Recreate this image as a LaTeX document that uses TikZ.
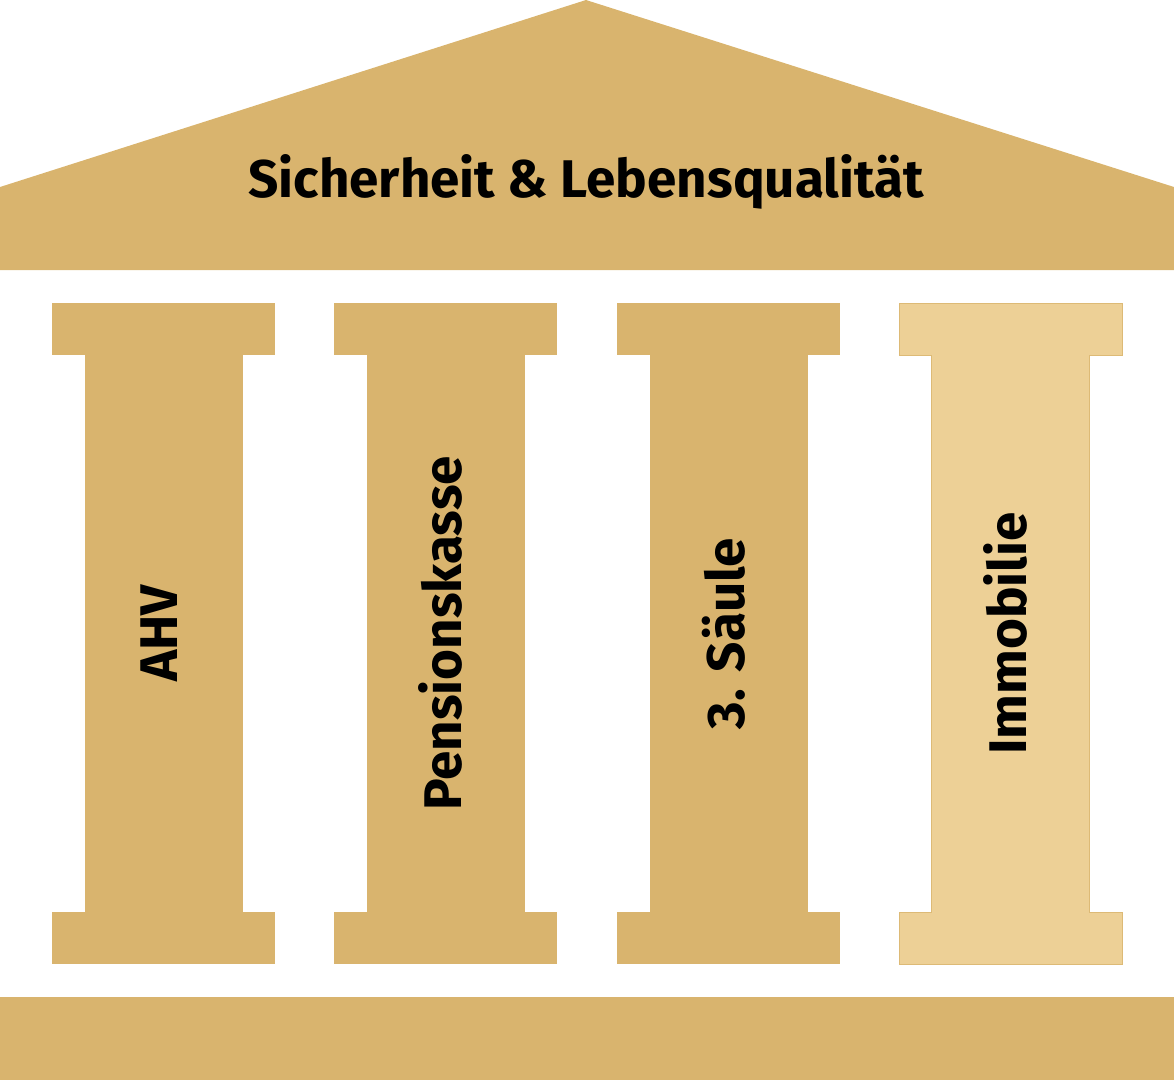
\documentclass[tikz,border=0pt]{standalone}
\usepackage{fontspec}
\setmainfont{Fira Sans}
\usetikzlibrary{positioning}
\definecolor{mygold}{RGB}{217,180,110}
\definecolor{mylightgold}{RGB}{237,208,150}
\newcommand{\widthcap}{223pt}
\newcommand{\widthshaft}{158pt}
\newcommand{\heightcap}{52pt}
\newcommand{\heightshaft}{557pt}
\tikzset{
    common/.style={anchor=north west, rectangle, inner sep=0pt, outer sep=0pt, fill=mygold},
    capital/.style={common, minimum width=\widthcap, minimum height=\heightcap},
    shaft/.style={common, anchor=north, minimum width=\widthshaft, minimum height=\heightshaft},
    plinth/.style={capital, anchor=north},
    light/.style={fill=mylightgold},
    outline/.style={draw=mygold!80!mylightgold, line width=0.6pt},
    label/.style={font=\bfseries\fontsize{53}{53}\selectfont, inner sep=0pt},
    pillarlabel/.style={label, rotate=90}
}
\begin{document}
\begin{tikzpicture}[x=1pt, y=-1pt]
    \useasboundingbox (0,0) rectangle (1174,1080);
    % roof and floor
    \fill[mygold] (0,187) -- (586,0) -- (1174,187) -- (1174,270) -- (0,270) -- cycle;
    \node[common, minimum width=1174pt, minimum height=83pt] (floor) at (0,997) {};
    \node[label, anchor=base] (title) at (586,197) {Sicherheit \& Lebensqualität};

    % pillars
    \node[capital] (AHV-top) at (52,303) {};
    \node[shaft, below=0pt of AHV-top] (AHV-shaft) {};
    \node[plinth, below=0pt of AHV-shaft] (AHV-base) {};

    \node[capital] (PK-top) at (334,303) {};
    \node[shaft, below=0pt of PK-top] (PK-shaft) {};
    \node[plinth, below=0pt of PK-shaft] (PK-base) {};

    \node[capital] (S3-top) at (617,303) {};
    \node[shaft, below=0pt of S3-top] (S3-shaft) {};
    \node[plinth, below=0pt of S3-shaft] (S3-base) {};

    \node[capital, light] (IM-top) at (899,303) {};
    \node[shaft, light, below=0pt of IM-top] (IM-shaft) {};
    \node[plinth, light, below=0pt of IM-shaft] (IM-base) {};
    \draw[outline] (IM-top.north west) -- (IM-top.north east) -- (IM-top.south east)
        -- (IM-shaft.north east) -- (IM-shaft.south east) -- (IM-base.north east)
        -- (IM-base.south east) -- (IM-base.south west) -- (IM-base.north west)
        -- (IM-shaft.south west) -- (IM-shaft.north west) -- (IM-top.south west) -- cycle;

    \node[pillarlabel] at ([xshift=-4pt]AHV-shaft.center) {AHV};
    \node[pillarlabel] at ([xshift=-5pt]PK-shaft.center) {Pensionskasse};
    \node[pillarlabel] at ([xshift=-5pt]S3-shaft.center) {3. Säule};
    \node[pillarlabel] at ([xshift=-5pt]IM-shaft.center) {Immobilie};
\end{tikzpicture}
\end{document}
